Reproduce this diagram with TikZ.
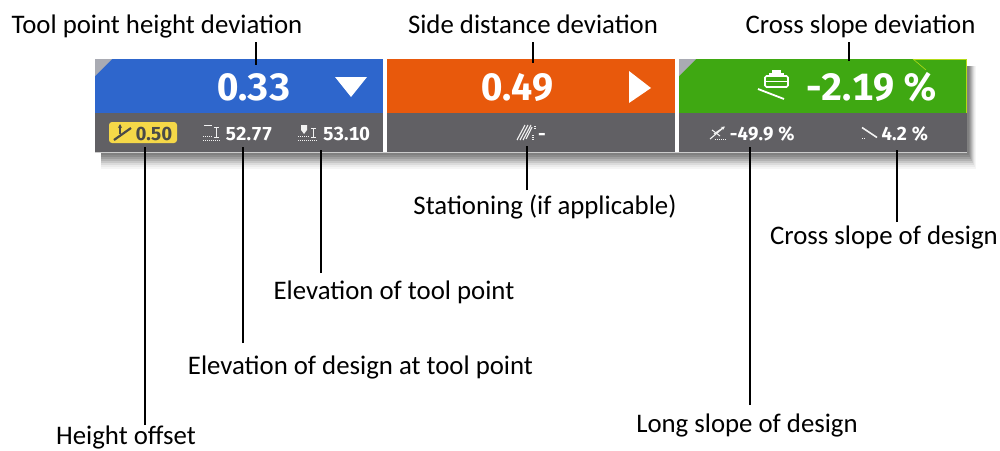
\documentclass[tikz,border=0pt]{standalone}
\usepackage{fontspec}
\usetikzlibrary{arrows.meta}
\setmainfont{Carlito}
\newfontfamily\numfont[Numbers=Monospaced]{Fira Sans}
\definecolor{bluep}{HTML}{2E66CC}
\definecolor{orangep}{HTML}{E8590C}
\definecolor{greenp}{HTML}{3FA812}
\definecolor{grayp}{HTML}{616064}
\definecolor{cornerp}{HTML}{A9ABB3}
\definecolor{yellowp}{HTML}{F5D848}
\definecolor{darkt}{HTML}{4A4A48}
\tikzset{
  lab/.style={font=\fontsize{26.8}{29}\selectfont,text=black,inner sep=0pt,anchor=base},
  bigv/.style={font=\numfont\bfseries\fontsize{38}{40}\selectfont,text=white,inner sep=0pt,anchor=base},
  smallv/.style={font=\numfont\bfseries\fontsize{18.8}{20}\selectfont,text=white,inner sep=0pt,anchor=base},
  lead/.style={draw=black,line width=2pt},
  icon/.style={draw=white!90!gray,line width=1pt},
}
\begin{document}
\begin{tikzpicture}[x=1pt,y=-1pt]
\useasboundingbox (0,0) rectangle (1000,450);
% shadow
\foreach \i/\c in {17/96,15/92,13/86,11/78,9/70,7/62,5/55,3/50}{
  \fill[black!\the\numexpr100-\c\relax] (101,152) rectangle (967+\i*0.5,152+\i);
  \fill[black!\the\numexpr100-\c\relax] (967,66) rectangle (967+\i*0.5,152+\i);
}
\fill[black!20] (95,152) rectangle (967,153);
% panels
\fill[bluep] (95,59) rectangle (383,113);
\fill[orangep] (387,59) rectangle (675,113);
\fill[greenp] (679,59) rectangle (967,113);
\fill[grayp] (95,113) rectangle (383,152);
\fill[grayp] (387,113) rectangle (675,152);
\fill[grayp] (679,113) rectangle (967,152);
\fill[cornerp] (95,59) -- (112,59) -- (95,76) -- cycle;
\fill[cornerp] (679,59) -- (696,59) -- (679,76) -- cycle;
\draw[yellow!70!green,line width=.6pt] (913,59) -- (966,59) -- (966,113);
\draw[yellow!70!green,line width=.6pt] (913,59) -- (926,70);
% big values
\node[bigv] (v1) at (254,100) {0.33};
\node[bigv] (v2) at (517.5,100) {0.49};
\node[bigv] (v3) at (872,100) {-2.19 \%};
\fill[white] (335,77) -- (367,77) -- (351,97) -- cycle;
\fill[white] (629,71) -- (651,88) -- (629,103) -- cycle;
% blade icon
\draw[white,line width=1.6pt,rounded corners=1.5pt] (765,76) rectangle (788,87);
\draw[white,line width=1.2pt] (765,81.5) -- (788,81.5);
\fill[white] (772,70) rectangle (781,76);
\fill[white] (769,73) rectangle (784,76);
\draw[white,line width=1.8pt] (758,89) -- (784,99);
% small values
\fill[yellowp,rounded corners=3pt] (109,122) rectangle (177,143);
\draw[darkt,line width=2.2pt] (114,140) -- (131,128);
\draw[darkt,line width=1.4pt,-{Stealth[length=4pt,width=4pt]}] (120,134) -- (120,124);
\node[smallv,text=darkt] (s1) at (154,140) {0.50};
\node[smallv] (s2) at (249,140) {52.77};
\node[smallv] (s3) at (346.5,140) {53.10};
\node[smallv] (s4) at (542,140) {-};
\node[smallv] (s5) at (762.5,140) {-49.9 \%};
\node[smallv] (s6) at (905,140) {4.2 \%};
\begin{scope}[icon,line width=1pt]
% elevation design icon
\draw (204,125) -- (212,125);
\draw (214,127) -- (219,127) (216.5,127) -- (216.5,137) (214,137) -- (219,137);
\draw[densely dotted] (203,140) -- (220,140);
\draw[densely dotted] (203,136.5) -- (212,136.5);
% elevation tool icon
\fill[white!90!gray] (301,125) -- (307,125) -- (307,130) -- (304,134) -- (301,130) -- cycle;
\draw (311,128) -- (316,128) (313.5,128) -- (313.5,137) (311,137) -- (316,137);
\draw[densely dotted] (298,140) -- (318,140);
\draw[densely dotted] (298,136) -- (310,136);
% stationing icon
\draw[line width=1.1pt] (517,140) -- (525,125) (520,140) -- (528,125) (523,140) -- (531,125) (526,139) -- (532,127);
\draw[densely dotted,line width=1.2pt] (535,126) -- (535,130);
\draw[densely dotted,line width=1.2pt] (533,135) -- (533,140);
% long slope icon
\draw[line width=1.1pt] (710,139) -- (723,128);
\draw[densely dotted] (715,139.5) -- (727,139.5);
\draw (712,130) -- (720,136);
\draw[line width=1.2pt,-{Stealth[length=4pt,width=4pt]}] (714,134) -- (725,126.5);
% cross slope design icon
\draw[line width=1.6pt] (862,127.5) -- (877,137.5);
\draw[densely dotted] (862,138.5) -- (865,138.5);
\end{scope}
% labels
\node[lab] (l1) at (157,33) {Tool point height deviation};
\node[lab] (l2) at (533,33) {Side distance deviation};
\node[lab] (l3) at (860.5,33) {Cross slope deviation};
\node[lab] (l4) at (545,214) {Stationing (if applicable)};
\node[lab] (l5) at (884,244) {Cross slope of design};
\node[lab] (l6) at (394,299) {Elevation of tool point};
\node[lab] (l7) at (360.5,374) {Elevation of design at tool point};
\node[lab] (l8) at (126,444.5) {Height offset};
\node[lab] (l9) at (747,432) {Long slope of design};
% connectors
\coordinate (e1) at (256,65); \coordinate (b1) at (256,42);
\coordinate (e2) at (533,63); \coordinate (b2) at (533,42);
\coordinate (e3) at (849,61); \coordinate (b3) at (849,42);
\coordinate (e4) at (527,146); \coordinate (b4) at (527,190);
\coordinate (e5) at (896.5,150); \coordinate (b5) at (896.5,222);
\coordinate (e6) at (321,150); \coordinate (b6) at (321,273);
\coordinate (e7) at (242.5,147); \coordinate (b7) at (242.5,343);
\coordinate (e8) at (145,147); \coordinate (b8) at (145,425);
\coordinate (e9) at (750,147); \coordinate (b9) at (750,405);
\foreach \n in {1,...,9}{\draw[lead] (b\n) -- (e\n);}
\end{tikzpicture}
\end{document}
